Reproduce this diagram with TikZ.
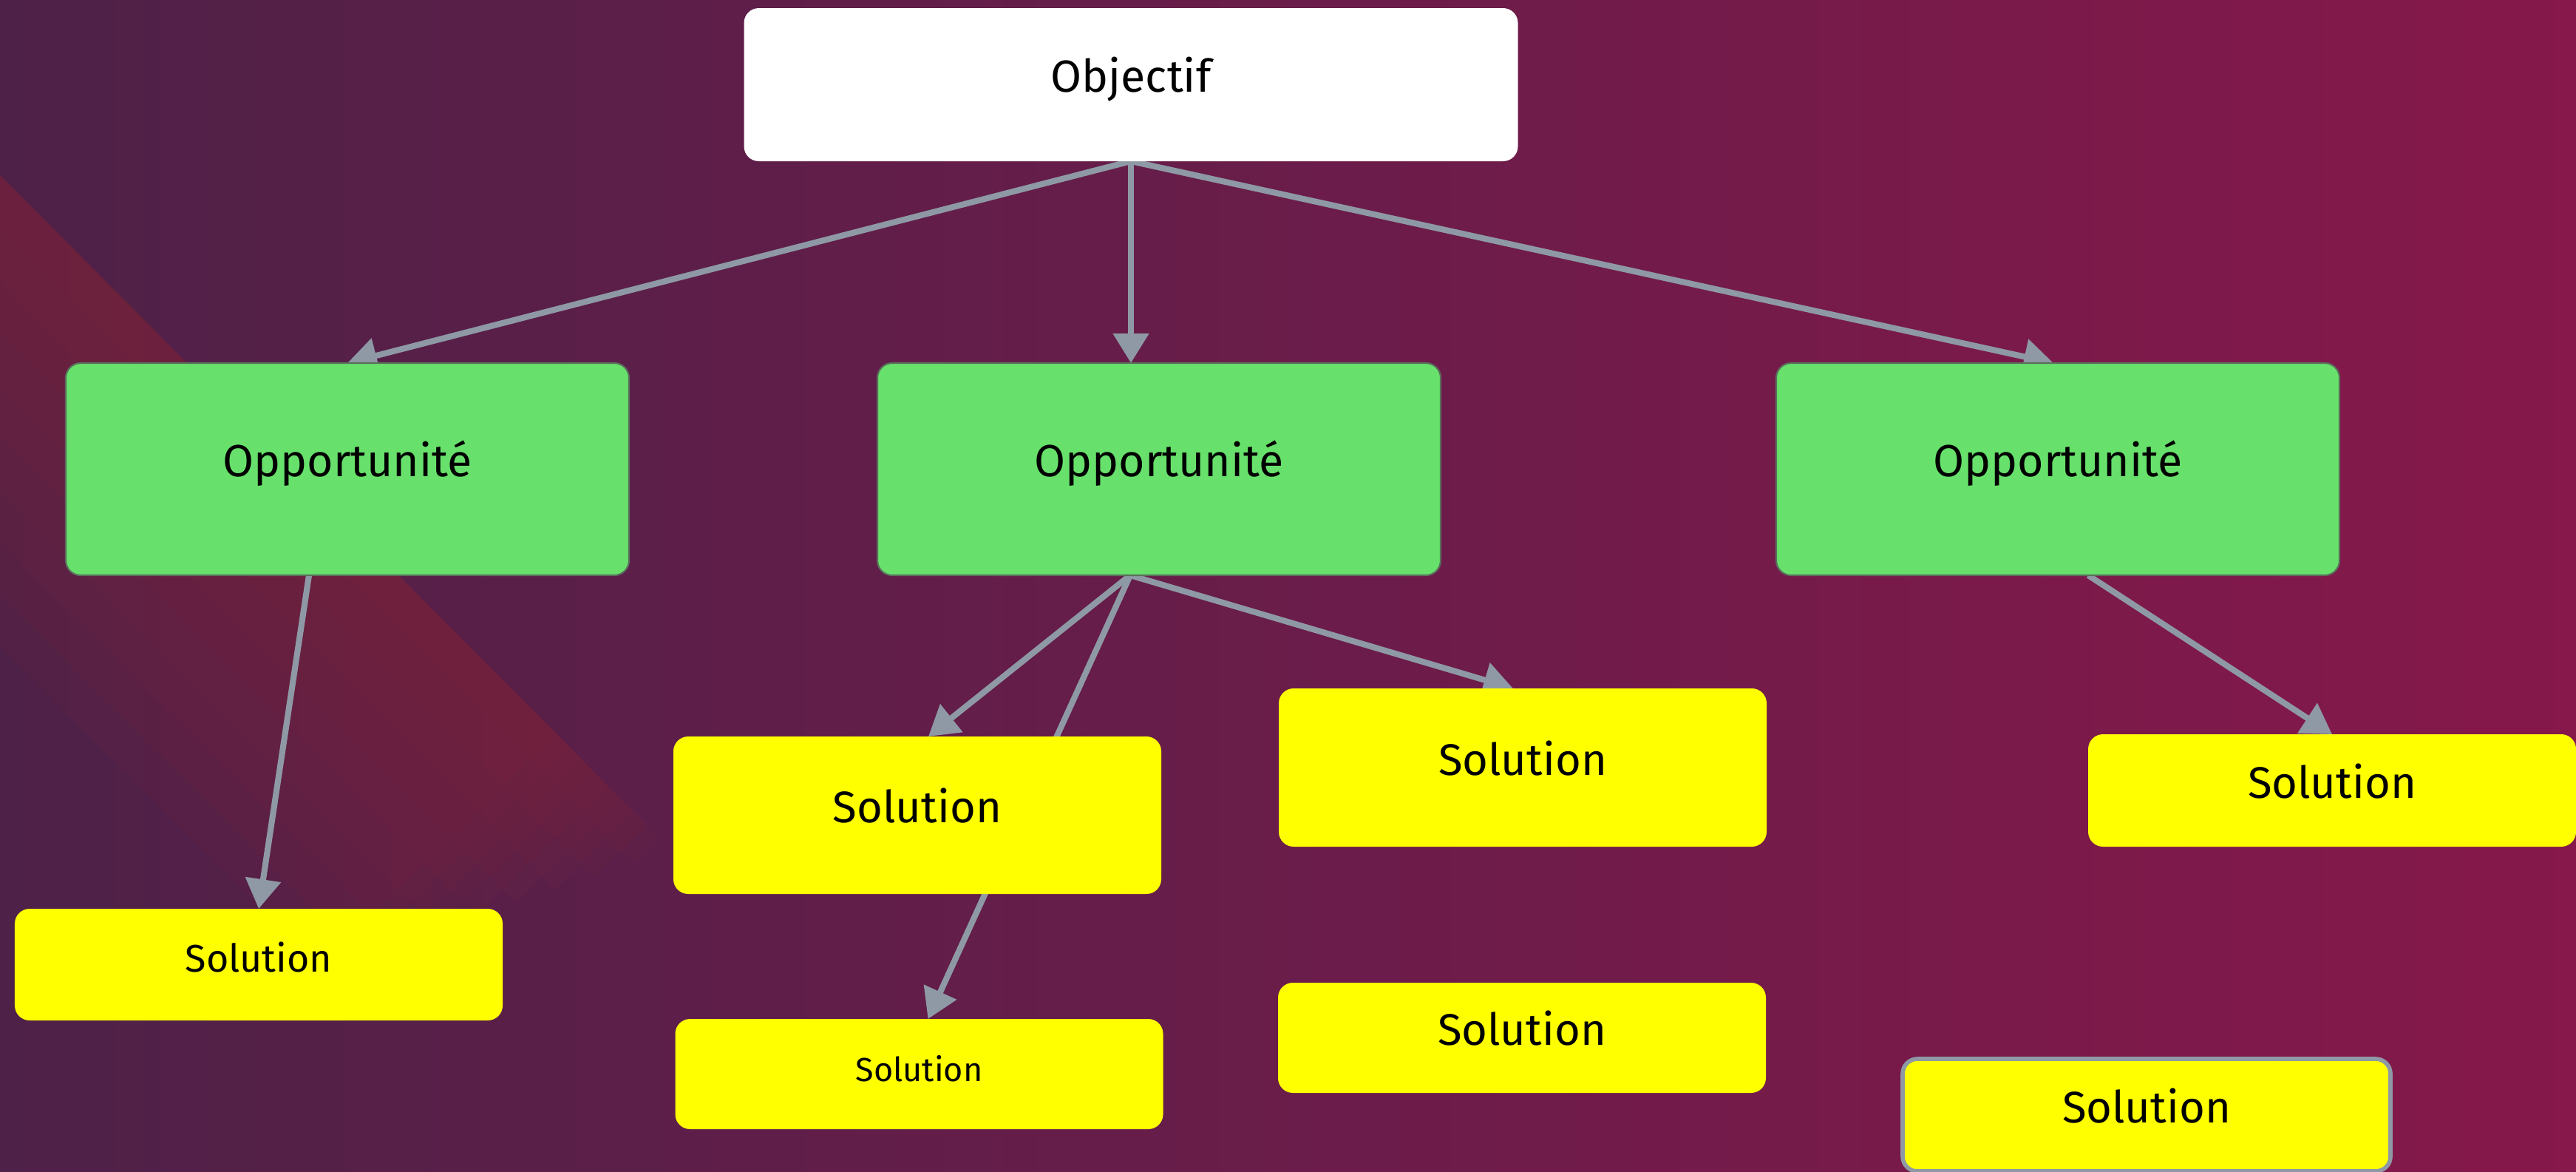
\documentclass[tikz,border=0pt]{standalone}
\usepackage{fontspec}
\setmainfont{Fira Sans}
\usetikzlibrary{arrows.meta}
\definecolor{bgleft}{HTML}{4E2148}
\definecolor{bgright}{HTML}{86184B}
\definecolor{bandred}{HTML}{80293B}
\definecolor{oppgreen}{HTML}{67E16B}
\definecolor{oppline}{HTML}{5A6E5C}
\definecolor{solyellow}{HTML}{FFFF00}
\definecolor{linkgray}{HTML}{8E99A5}
\pgfdeclarelayer{bg}
\pgfdeclarelayer{edges}
\pgfsetlayers{bg,edges,main}

\begin{document}
\begin{tikzpicture}[
	box/.style={rectangle, rounded corners=0.2cm, inner sep=0pt, outer sep=0pt, align=center, text height=0.2cm, text depth=0pt},
	goal/.style={box, fill=white, minimum width=10.47cm, minimum height=2.07cm, font=\fontsize{17.3}{20}\selectfont},
	opp/.style={box, fill=oppgreen, draw=oppline, line width=0.6pt, minimum width=7.62cm, minimum height=2.87cm, font=\fontsize{17.3}{20}\selectfont},
	sol/.style={box, fill=solyellow, minimum width=6.6cm},
	link/.style={draw=linkgray, line width=2.3pt, -{Triangle[length=0.40cm,width=0.47cm]}}
	]
	\useasboundingbox (0,0) rectangle (34.85,-15.84);
	
	%background
	\begin{pgfonlayer}{bg}
		\shade[left color=bgleft, right color=bgright] (0,0) rectangle (34.85,-15.84);
		\begin{scope}[shift={(0,-2.37)}, rotate=-45.1]
			\foreach \p in {0.5, 1.0, ..., 4.5}{
				\fill[bandred, opacity=0.11] (-5,0) rectangle (12.9-0.5*\p, -\p);
			}
		\end{scope}
	\end{pgfonlayer}
	
	%goal
	\node[goal] (obj) at (15.30,-1.145) {Objectif};
	
	%opportunities
	\node[opp] (opp1) at (4.70,-6.345) {Opportunité};
	\node[opp] (opp2) at (15.68,-6.345) {Opportunité};
	\node[opp] (opp3) at (27.84,-6.345) {Opportunité};
	
	%solutions
	\node[sol, minimum height=1.51cm, font=\fontsize{14.8}{17}\selectfont] (solA) at (3.50,-13.045) {Solution};
	\node[sol, minimum height=2.13cm, font=\fontsize{17}{20}\selectfont] (solB) at (12.41,-11.025) {Solution};
	\node[sol, minimum height=1.49cm, font=\fontsize{12.8}{15}\selectfont] (solD) at (12.435,-14.525) {Solution};
	\node[sol, minimum height=2.14cm, font=\fontsize{17}{20}\selectfont] (solC) at (20.60,-10.38) {Solution};
	\node[sol, minimum height=1.49cm, font=\fontsize{17}{20}\selectfont] (solE) at (20.59,-14.035) {Solution};
	\node[sol, minimum height=1.52cm, font=\fontsize{17}{20}\selectfont] (solF) at (31.55,-10.69) {Solution};
	\node[sol, draw=linkgray, line width=1.6pt, minimum height=1.52cm, font=\fontsize{17}{20}\selectfont] (solG) at (29.04,-15.08) {Solution};
	
	%links
	\begin{pgfonlayer}{edges}
		\draw[link] (obj.south) -- (opp1.north);
		\draw[link] (obj.south) -- (obj.south |- opp2.north);
		\draw[link] (obj.south) -- ([xshift=-0.06cm]opp3.north);
		\draw[link] ([xshift=-0.52cm]opp1.south) -- (solA.north);
		\draw[link] ([xshift=-0.39cm]opp2.south) -- ([xshift=0.15cm]solB.north);
		\draw[link] ([xshift=-0.39cm]opp2.south) -- ([xshift=-0.13cm]solC.north);
		\draw[link] ([xshift=-0.39cm]opp2.south) -- ([xshift=0.12cm]solD.north);
		\draw[link] ([xshift=0.41cm]opp3.south) -- (solF.north);
	\end{pgfonlayer}
\end{tikzpicture}
\end{document}
